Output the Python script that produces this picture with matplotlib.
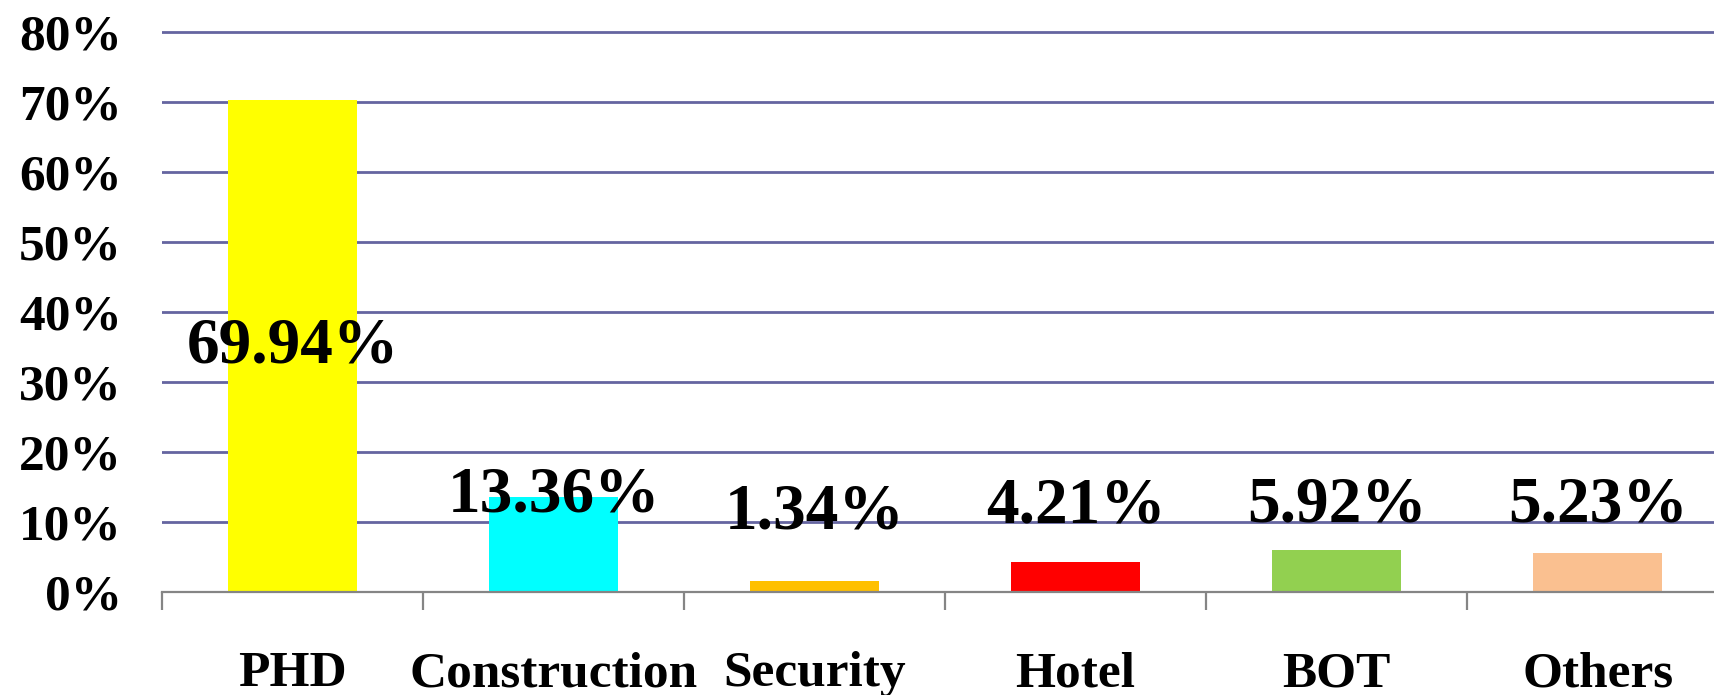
import numpy as np
import matplotlib
matplotlib.use("Agg")
import matplotlib.pyplot as plt
from matplotlib.ticker import FixedLocator, PercentFormatter

# data
categories = ["PHD", "Construction", "Security", "Hotel", "BOT", "Others"]
bar_heights = [70.2, 13.6, 1.6, 4.3, 5.95, 5.5]   # drawn bar heights (%)
value_labels = ["69.94%", "13.36%", "1.34%", "4.21%", "5.92%", "5.23%"]
y_ticks = [0, 10, 20, 30, 40, 50, 60, 70, 80]

# styling
colors = ["#FFFF00", "#00FFFF", "#FFC000", "#FF0000", "#92D050", "#FAC090"]
label_baseline = [32.7, 11.4, 9.1, 9.85, 10.0, 10.0]  # where each data label sits (%)

plt.rcParams['font.family'] = ['Liberation Serif', 'DejaVu Serif']
plt.rcParams['font.weight'] = 'bold'

fig = plt.figure(figsize=(17.14, 6.95), dpi=100)
ax = fig.add_axes([0.0945, 0.1486, 1.0 - 0.0945, 0.9645 - 0.1486])

x = np.arange(len(categories))
ax.bar(x, bar_heights, width=0.494, color=colors, zorder=3)

for xi, txt, yb in zip(x, value_labels, label_baseline):
    ax.text(xi, yb, txt, ha='center', va='baseline', fontsize=47,
            fontweight='bold', zorder=4)

ax.set_xlim(-0.5, 5.446)
ax.set_ylim(0, 81)

ax.set_yticks(y_ticks)
ax.yaxis.set_major_formatter(PercentFormatter(decimals=0))
ax.yaxis.grid(True, color='#6565A0', linewidth=2.0, zorder=0)
ax.tick_params(axis='y', length=0, pad=29, labelsize=37)

ax.set_xticks(x)
ax.set_xticklabels(categories)
ax.xaxis.set_minor_locator(FixedLocator(np.arange(-0.5, len(categories), 1.0)))
ax.tick_params(axis='x', which='major', length=0, pad=43, labelsize=37)
ax.tick_params(axis='x', which='minor', length=13, width=1.6, color='#858585',
               direction='out')

for side in ['left', 'top', 'right']:
    ax.spines[side].set_visible(False)
ax.spines['bottom'].set_color('#858585')
ax.spines['bottom'].set_linewidth(1.6)
ax.spines['bottom'].set_zorder(5)

fig.savefig("out.png", dpi=100)
